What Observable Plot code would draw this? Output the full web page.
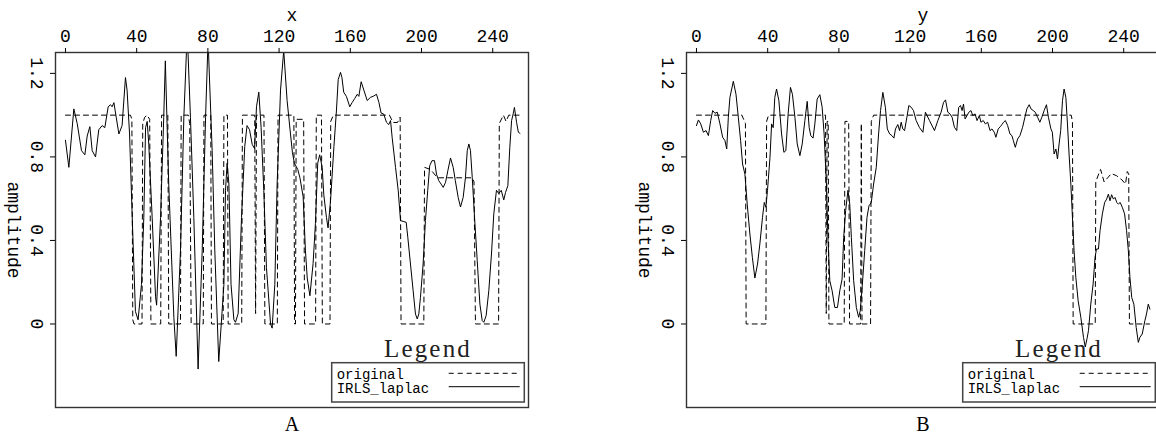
<!DOCTYPE html>
<html><head><meta charset="utf-8">
<script src="https://cdn.jsdelivr.net/npm/d3@7"></script>
<script src="https://cdn.jsdelivr.net/npm/@observablehq/plot@0.6"></script>
<style>
html,body{margin:0;padding:0;background:#fff;}
#wrap{position:relative;width:1156px;height:435px;overflow:hidden;background:#fff;}
.panel{position:absolute;top:0;width:578px;height:435px;}
.panel svg{max-width:none !important;}
</style></head><body><div id="wrap"></div>
<script>
const xTicks = [0, 40, 80, 120, 160, 200, 240];
const yTicks = [0, 0.4, 0.8, 1.2];
const panelLabels = ["A", "B"];
const axisLabels = ["x", "y"];
const yLabel = "amplitude";
const seriesNames = ["original", "IRLS_laplac"];

const origA = [[0,1],[36.5,1],[37.3,0.98],[37.8,0.02],[38.5,0],[43,0],[43.4,0.96],[44.5,0.99],[45.8,1],[47.3,0.98],[48,0],[53.5,0],[54,1],[57.5,1],[58,0],[64.6,0],[65,1],[69,1],[69.8,0.96],[70.6,0],[77.4,0],[77.8,1],[81.6,1],[82,0],[88.6,0],[89,1],[91,1],[91.4,0],[99,0],[99.4,1],[106.3,1],[106.8,0.05],[107.3,1],[111.5,1],[112,0],[119,0],[119.4,1],[128.3,1],[128.7,0],[129.2,0],[129.6,0.98],[133.8,0.98],[134.3,0],[140.5,0],[140.9,1],[143.8,1],[144.3,0],[148.6,0],[149,0.97],[150.5,1],[182,1],[184,0.965],[186.5,0.965],[188,0.99],[188.5,0],[201.3,0],[201.7,0.75],[205,0.74],[209,0.7],[228.5,0.7],[229.5,0.68],[230.3,0],[243.3,0],[243.7,0.96],[246,1],[247.5,0.97],[249,1],[255,1]];

const irlsA = [[0,0.88],[1.9,0.75],[4.7,1.03],[6.6,0.96],[9,0.83],[10.9,0.81],[12.2,0.9],[13.7,0.945],[15,0.83],[16.9,0.8],[18.7,0.93],[20.6,0.95],[22.1,0.94],[24,1.04],[25.3,1.05],[26.2,1.04],[27.2,1.06],[28.5,0.99],[30,0.91],[31.8,0.95],[33.7,1.18],[34.6,1.12],[36,0.91],[37.5,0.51],[39.3,0.06],[40.8,0.02],[42.7,0.19],[44,0.51],[45,0.94],[45.9,0.97],[46.8,0.86],[48.7,0.51],[50.6,0.13],[51.2,0.09],[53.4,0.51],[55.2,0.99],[56.1,1.26],[58,0.67],[60.9,0.03],[62.2,-0.155],[64.6,0.35],[66.5,0.99],[68.4,1.4],[70.2,0.99],[72.1,0.51],[74.5,-0.216],[76.8,0.35],[78.7,0.99],[80.1,1.36],[82.4,0.83],[83.9,0.35],[86.1,-0.18],[89,0.19],[89.9,0.64],[90.8,0.77],[91.8,0.67],[93,0.19],[94.6,0.02],[95.5,0.008],[97,0.05],[98.9,0.51],[100.7,0.85],[102,0.95],[103.4,0.93],[104.9,0.86],[106.2,0.84],[107.3,1.04],[108.6,1.11],[109.9,0.94],[111.4,0.64],[112.9,0.27],[115.2,0],[116.1,-0.02],[117.6,0.19],[118.9,0.67],[120.8,1.12],[122.6,1.31],[124.5,1.07],[126.4,0.91],[127.5,0.82],[128.6,0.77],[130.5,0.74],[131.7,0.7],[133.5,0.61],[134.8,0.35],[135.8,0.22],[137.3,0.135],[139.1,0.29],[140.4,0.48],[141.7,0.77],[142.8,0.81],[144.2,0.75],[145.1,0.62],[146.6,0.51],[147.5,0.46],[148.9,0.59],[150.8,0.85],[152.2,1.02],[153.2,1.17],[154.5,1.205],[155.3,1.18],[156.3,1.11],[157.8,1.09],[159.7,1.04],[161,1.06],[162.5,1.08],[163.9,1.1],[164.8,1.09],[166.1,1.16],[167.6,1.12],[169.5,1.07],[171.3,1.085],[172.8,1.09],[174.7,1.1],[176.1,1.06],[177.3,1.01],[178.8,1.005],[180.3,0.966],[181.6,0.955],[182.6,0.974],[183.5,0.894],[185.4,0.75],[186.9,0.64],[188.2,0.495],[190.1,0.49],[191.4,0.487],[192.3,0.415],[193.8,0.287],[195.3,0.159],[196.6,0.048],[197.6,0.024],[198.5,0.048],[199.4,0.127],[200.9,0.287],[202.2,0.495],[203.5,0.64],[204.6,0.758],[205.9,0.782],[207.3,0.782],[208.4,0.718],[209.7,0.686],[211,0.67],[212.2,0.654],[213.5,0.678],[214.8,0.734],[216.3,0.795],[217.8,0.75],[219,0.686],[220.6,0.606],[221.9,0.56],[223.4,0.606],[224.7,0.702],[225.7,0.83],[226.6,0.862],[227.5,0.83],[228.5,0.702],[229.8,0.51],[231.3,0.303],[232.8,0.095],[234.1,0.016],[235,0.008],[236.3,0.04],[237.8,0.159],[239.3,0.335],[240.6,0.527],[242.1,0.64],[243.4,0.625],[244.8,0.64],[246.2,0.594],[247.2,0.63],[248.5,0.662],[249.6,0.846],[250.6,0.974],[251.5,1.006],[252.2,1.037],[253.4,0.966],[254.4,0.918],[255.3,0.913]];

const origB = [[0,1],[25.5,1],[26.5,0.98],[27.5,0.96],[27.9,0],[39,0],[39.4,0.97],[40.5,1],[72.5,1],[72.9,0.05],[73.4,0.97],[74,0.97],[74.4,0],[83,0],[83.4,0.97],[85.5,0.97],[86,0],[92.2,0],[92.6,0.96],[93,0],[97.8,0],[98.2,0.97],[99.5,1],[210.5,1],[211.2,0.97],[211.6,0],[224,0],[224.3,0.68],[226,0.72],[227,0.74],[229,0.68],[231,0.7],[233,0.72],[236,0.71],[239,0.69],[241,0.67],[242,0.73],[242.8,0.72],[243.2,0],[254.5,0]];

const irlsB = [[0,0.95],[1.1,0.977],[2.4,0.958],[3.9,0.918],[5.4,0.926],[6.7,0.902],[8,0.974],[9.1,1.022],[10.4,1.009],[11.7,1.014],[13.2,0.958],[14.7,0.894],[16,0.878],[17,0.838],[17.9,0.99],[18.8,1.085],[20.7,1.162],[22.2,1.1],[23.5,0.99],[24.8,0.878],[25.9,0.766],[27.2,0.718],[28.5,0.574],[30,0.431],[31.4,0.319],[32.8,0.22],[34.3,0.287],[35.6,0.383],[37.1,0.511],[38.1,0.582],[39,0.559],[39.9,0.64],[41.3,0.798],[42.2,0.958],[43.1,0.94],[44,1.085],[45,1.125],[46.3,1.069],[47.8,0.91],[49.1,0.822],[50.2,0.83],[51.5,1.006],[52.8,1.133],[53.9,1.1],[55.3,0.99],[56.6,0.862],[58.1,0.806],[59.4,0.862],[60.9,0.974],[62.2,1.066],[63.3,0.942],[64.2,0.902],[65.5,0.89],[66.5,0.958],[67.8,1.077],[69.3,1.098],[70.6,1.038],[71.7,0.91],[73,0.67],[73.9,0.399],[74.9,0.207],[76.2,0.159],[77.7,0.079],[79.2,0.079],[80.5,0.159],[81.8,0.215],[82.7,0.415],[83.8,0.543],[85.1,0.64],[86.1,0.574],[87,0.415],[88.3,0.207],[89.8,0.079],[91.1,0.032],[92,0.063],[93.2,0.191],[94.5,0.351],[95.8,0.511],[96.9,0.566],[98.2,0.582],[99.5,0.67],[101,0.75],[102.3,0.91],[103.4,1.022],[104.7,1.109],[106.1,1.038],[107.2,0.934],[108.5,0.91],[109.8,0.902],[110.9,0.89],[111.8,0.934],[113.1,0.955],[114.1,0.926],[115,0.966],[115.9,0.934],[116.9,0.926],[118.2,0.99],[119.3,1.046],[120.6,1.038],[121.9,1.022],[123.4,0.974],[125.3,0.94],[127.2,0.918],[128.6,1.014],[130.9,0.974],[133.7,0.926],[135.6,0.974],[137.4,1.014],[138.8,1.061],[139.9,1.073],[141.2,1.014],[142.4,1.006],[143.6,0.99],[144.9,0.942],[146.2,0.926],[147.3,1.037],[148.3,1.046],[149.2,1.022],[150,1.053],[150.9,0.982],[152,0.998],[153,1.014],[154.2,1.022],[155.2,0.998],[156.5,1.006],[157.6,0.974],[158.9,0.998],[159.8,0.966],[161.1,0.974],[162.3,0.958],[163.6,0.966],[164.9,0.926],[166,0.934],[167.3,0.918],[168.2,0.894],[169.5,0.934],[170.7,0.945],[171.6,0.955],[172.5,0.966],[173.5,0.974],[174.8,0.95],[176.1,0.91],[177.2,0.902],[178,0.878],[179.1,0.846],[180.4,0.886],[181.7,0.902],[183.2,0.942],[184.5,0.99],[185.6,1.03],[186.9,1.05],[187.9,1.03],[189.2,1.022],[190.3,1.014],[191.6,0.99],[192.9,0.966],[194,0.99],[195.3,1.022],[196.6,1.05],[197.7,0.99],[199.1,0.934],[199.9,0.918],[200.9,0.814],[201.9,0.838],[202.8,0.79],[203.7,0.862],[204.6,0.926],[205.6,1.069],[206.5,1.125],[207.5,1.085],[208.4,0.958],[209.3,0.814],[210.3,0.67],[211.2,0.511],[212.1,0.351],[213.1,0.223],[214.4,0.111],[215.9,0.032],[217.4,-0.064],[218.4,-0.11],[219.4,-0.07],[220.2,-0.032],[221.5,0.095],[222.8,0.191],[223.9,0.319],[224.7,0.359],[225.8,0.359],[226.7,0.447],[228,0.527],[229.3,0.582],[230.4,0.598],[231.4,0.622],[232.3,0.59],[233.2,0.619],[234.2,0.598],[235.1,0.606],[236.1,0.582],[237,0.574],[238,0.582],[239.2,0.559],[240.5,0.527],[241.6,0.447],[242.6,0.351],[243.5,0.223],[244.5,0.127],[245.7,0.095],[247,-0.016],[248.2,-0.088],[249.1,-0.064],[250.4,-0.048],[251.9,0.016],[252.8,0.048],[253.8,0.095],[254.7,0.071]];

const MONO = "'Liberation Mono', 'DejaVu Sans Mono', monospace";
const SERIF = "'Liberation Serif', 'DejaVu Serif', serif";

function panel(orig, irls, axisLabel, panelLabel) {
  const W = 578, H = 435, mL = 55, mR = 50, mT = 52, mB = 28;
  const fmt = d => d === 0 ? "0" : d.toFixed(1);
  const svg = Plot.plot({
    width: W, height: H,
    marginLeft: mL, marginRight: mR, marginTop: mT, marginBottom: mB,
    x: {domain: [-5.6, 260.1]},
    y: {domain: [-0.4, 1.3]},
    style: {fontFamily: MONO, fontSize: "18px", color: "black", background: "white", overflow: "visible", maxWidth: "none"},
    marks: [
      Plot.line(orig, {x: d => d[0], y: d => d[1], stroke: "black", strokeWidth: 1, strokeDasharray: "5,4", clip: true}),
      Plot.line(irls, {x: d => d[0], y: d => d[1], stroke: "black", strokeWidth: 1, clip: true}),
      Plot.frame({stroke: "#333", strokeWidth: 1.4}),
      Plot.axisX({anchor: "top", ticks: xTicks, tickSize: 5, tickPadding: 6, label: null, fontSize: 18}),
      Plot.axisY({anchor: "left", ticks: yTicks, tickSize: 5, tickFormat: () => "", label: null}),
      Plot.text(yTicks, {y: d => d, text: fmt, frameAnchor: "left", dx: -18.5, rotate: 90, textAnchor: "middle", lineAnchor: "middle", fontSize: 18}),
      Plot.text([yLabel], {text: d => d, frameAnchor: "left", dx: -41.5, rotate: 90, textAnchor: "middle", lineAnchor: "middle", fontSize: 18}),
      Plot.text([axisLabel], {text: d => d, frameAnchor: "top", dy: -37, textAnchor: "middle", lineAnchor: "middle", fontSize: 18}),
      Plot.text([panelLabel], {text: d => d, frameAnchor: "bottom", dy: 17, textAnchor: "middle", lineAnchor: "middle", fontSize: 20, fontFamily: SERIF})
    ]
  });
  svg.style.maxWidth = "none";
  // legend box inside the frame, bottom-right
  const g = d3.select(svg).append("g").attr("text-anchor", "start");
  const bx = mL + 276.7, by = 362.7, bw = 192.6, bh = 39.3;
  g.append("text").attr("x", bx + bw / 2).attr("y", by - 5.5)
    .attr("text-anchor", "middle").attr("font-family", SERIF).attr("font-size", 25)
    .attr("letter-spacing", "2.2px").attr("fill", "#222").text("Legend");
  g.append("rect").attr("x", bx).attr("y", by).attr("width", bw).attr("height", bh)
    .attr("fill", "white").attr("stroke", "#444").attr("stroke-width", 1.5);
  const rows = [{name: seriesNames[0], dash: "5,4", base: 16.3, ly: 10.6}, {name: seriesNames[1], dash: null, base: 30, ly: 24}];
  for (const r of rows) {
    g.append("text").attr("x", bx + 5).attr("y", by + r.base).attr("font-family", MONO)
      .attr("text-anchor", "start").attr("font-size", 14).attr("fill", "black").text(r.name);
    const ln = g.append("line").attr("x1", bx + 117).attr("x2", bx + 188)
      .attr("y1", by + r.ly).attr("y2", by + r.ly).attr("stroke", "black").attr("stroke-width", 1);
    if (r.dash) ln.attr("stroke-dasharray", r.dash);
  }
  return svg;
}

const wrap = document.getElementById("wrap");
const offsets = [0, 631];
[[origA, irlsA], [origB, irlsB]].forEach(([o, s], i) => {
  const div = document.createElement("div");
  div.className = "panel";
  div.style.left = offsets[i] + "px";
  div.appendChild(panel(o, s, axisLabels[i], panelLabels[i]));
  wrap.appendChild(div);
});
</script></body></html>
